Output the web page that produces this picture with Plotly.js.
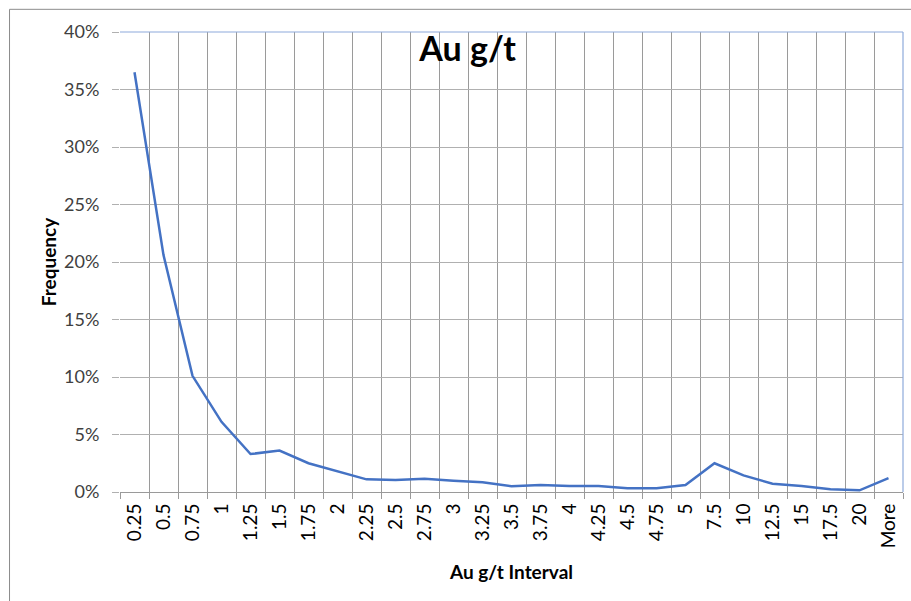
<!DOCTYPE html>
<html>
<head>
<meta charset="utf-8">
<script src="https://cdn.plot.ly/plotly-3.0.1.min.js"></script>
<style>html,body{margin:0;padding:0;background:#fff;}#chart{width:911px;height:601px;}</style>
</head>
<body>
<div id="chart"></div>
<script>
const categories = ["0.25","0.5","0.75","1","1.25","1.5","1.75","2","2.25","2.5","2.75","3","3.25","3.5","3.75","4","4.25","4.5","4.75","5","7.5","10","12.5","15","17.5","20","More"];
const frequency = [0.365,0.206,0.101,0.061,0.033,0.036,0.025,0.018,0.011,0.0105,0.0115,0.0098,0.0085,0.005,0.006,0.0053,0.0053,0.0033,0.0033,0.006,0.025,0.0145,0.0072,0.0053,0.0025,0.0015,0.012];
const yTicks = [0,0.05,0.1,0.15,0.2,0.25,0.3,0.35,0.4];
const yTickText = ["0%","5%","10%","15%","20%","25%","30%","35%","40%"];

const FONT = "Lato, 'Open Sans', sans-serif";
const trace = {
  x: categories, y: frequency, type: "scatter", mode: "lines",
  line: {color: "#4472C4", width: 2.5},
  hoverinfo: "skip"
};
const layout = {
  width: 911, height: 601,
  margin: {l: 119.5, r: 8.3, t: 31.7, b: 108.7},
  paper_bgcolor: "#fff", plot_bgcolor: "#fff",
  showlegend: false,
  font: {family: FONT, color: "#404040", size: 18},
  title: {text: "<b>Au g/t</b>", font: {family: FONT, size: 34, color: "#000"}, x: 0.444, xref: "paper", xanchor: "center", y: 0.918, yanchor: "middle"},
  xaxis: {
    type: "category", range: [-0.5, 26.5], tickson: "boundaries",
    showgrid: true, gridcolor: "#9a9a9a", gridwidth: 1,
    showline: true, linecolor: "#9a9a9a", linewidth: 1,
    ticks: "outside", ticklen: 6, tickcolor: "#9a9a9a",
    tickangle: -90, tickfont: {family: FONT, size: 19, color: "#000"},
    ticklabelstandoff: 3,
    title: {text: "<b>Au g/t Interval</b>", font: {family: FONT, size: 19, color: "#000"}, standoff: 18},
    automargin: false, fixedrange: true
  },
  yaxis: {
    range: [0, 0.4], tickvals: yTicks, ticktext: yTickText,
    showgrid: true, gridcolor: "#b0b0b0", gridwidth: 1, zeroline: false,
    showline: false,
    ticks: "outside", ticklen: 7, tickcolor: "#b0b0b0",
    tickfont: {family: FONT, size: 18, color: "#404040"},
    ticklabelstandoff: 9,
    title: {text: "<b>Frequency</b>", font: {family: FONT, size: 19, color: "#000"}, standoff: 2},
    automargin: false, fixedrange: true
  },
  shapes: [
    {type: "rect", xref: "paper", yref: "paper", x0: -0.1411, x1: 1.03, y0: -0.26, y1: 1.0493, line: {color: "#8c8c8c", width: 1}, fillcolor: "rgba(0,0,0,0)", layer: "below"},
    {type: "line", xref: "paper", yref: "paper", x0: 0, x1: 1, y0: 1, y1: 1, line: {color: "#8eaadb", width: 1.2}},
    {type: "line", xref: "paper", yref: "paper", x0: 1, x1: 1, y0: 0, y1: 1, line: {color: "#8eaadb", width: 1.2}}
  ]
};
Plotly.newPlot("chart", [trace], layout, {displayModeBar: false, staticPlot: true});
</script>
</body>
</html>
